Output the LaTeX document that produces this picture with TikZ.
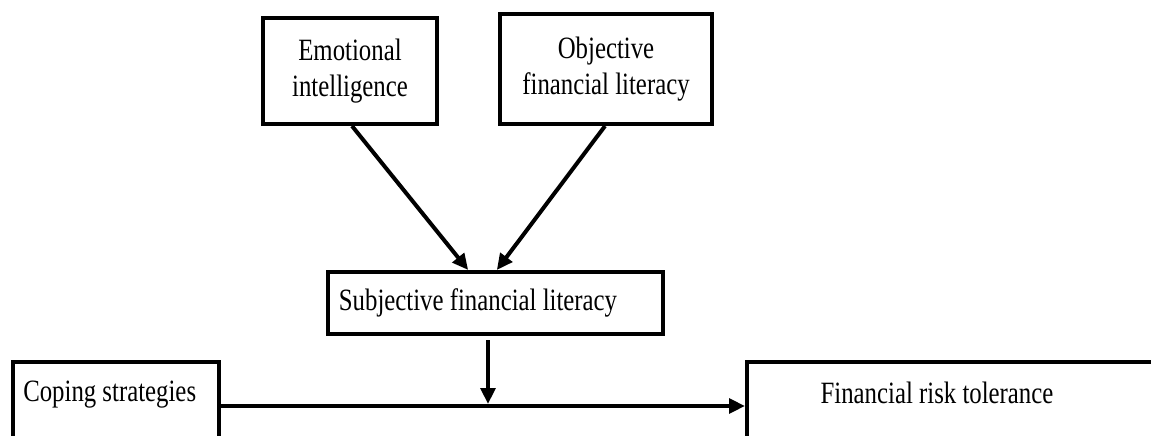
\documentclass[tikz,border=0pt]{standalone}
\usepackage{fontspec}
\setmainfont{Liberation Serif}[FakeStretch=0.8]
\usetikzlibrary{arrows.meta}
\begin{document}
\begin{tikzpicture}[x=0.75pt,y=-0.75pt,
  every node/.style={font=\fontsize{23.25}{27}\selectfont},
  box/.style={draw=black, line width=3pt, inner sep=0pt, align=center},
  txt/.style={inner sep=0pt},
  arr/.style={line width=3pt, -{Triangle[length=12pt,width=11pt]}},
  link/.style={line width=3pt}]
\useasboundingbox (0,0) rectangle (1151,435);
\clip (0,0) rectangle (1151,435);
% boxes
\node[box, minimum width=130.5pt, minimum height=79.5pt] (emo) at (350,71) {Emotional\\intelligence};
\node[box, minimum width=159pt, minimum height=82.5pt] (obj) at (606,69) {Objective\\financial literacy};
\node[box, minimum width=251.25pt, minimum height=46.5pt] (subj) at (495.5,303) {};
\node[txt] (subjt) at (478,303) {Subjective financial literacy};
\node[box, minimum width=154.5pt, minimum height=73.5pt] (cope) at (116,411) {};
\node[txt, anchor=west] (copet) at (23,395) {Coping strategies};
\node[box, minimum width=324.75pt, minimum height=73.5pt] (frt) at (963.5,411) {};
\node[txt] (frtt) at (937,393) {Financial risk tolerance};
\coordinate (m) at (488,406);
% connectors
\draw[arr] ([xshift=1.5pt]emo.south) -- ([xshift=-20.5pt]subj.north);
\draw[arr] ([xshift=-0.75pt]obj.south) -- ([xshift=1pt]subj.north);
\draw[arr] ([yshift=-3pt]subj.south -| m) -- ([yshift=1.5pt]m);
\draw[arr] (cope.east |- m) -- (frt.west |- m);
\end{tikzpicture}
\end{document}
